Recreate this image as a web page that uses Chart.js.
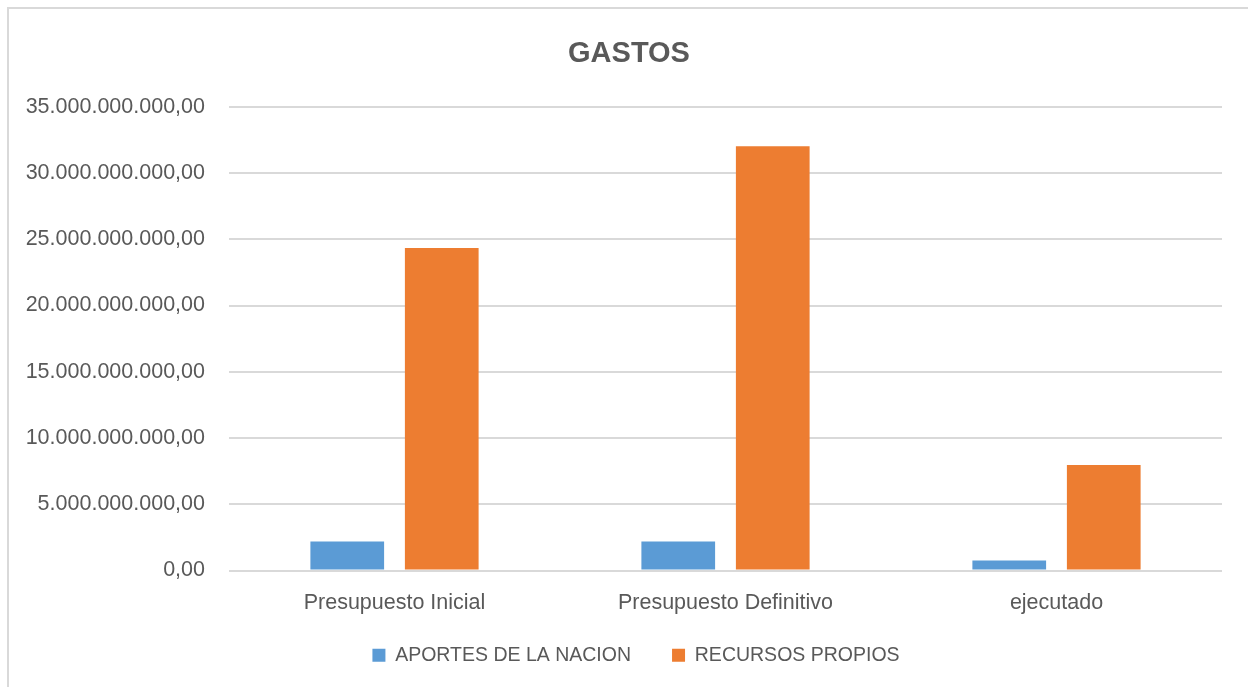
<!DOCTYPE html>
<html>
<head>
<meta charset="utf-8">
<script src="https://cdn.jsdelivr.net/npm/chart.js@4/dist/chart.umd.min.js"></script>
<style>
  body { margin: 0; background: #fff; overflow: hidden; }
  #frame { position: absolute; left: 7px; top: 7px; width: 1300px; height: 740px; border: 2px solid #d9d9d9; }
  #stats_chart { position: absolute; left: 0; top: 0; }
</style>
</head>
<body>
<div id="frame"></div>
<canvas id="stats_chart" width="1248" height="687"></canvas>
<script>
'use strict';

const categories = ['Presupuesto Inicial', 'Presupuesto Definitivo', 'ejecutado'];
const aportes_nacion = [2190000000, 2190000000, 750000000];
const recursos_propios = [24340000000, 32020000000, 7970000000];
const y_ticks = [0, 5e9, 10e9, 15e9, 20e9, 25e9, 30e9, 35e9];

const grey_text = '#595959';
const font_family = '"Liberation Sans", Arial, sans-serif';

// 35000000000 -> 35.000.000.000,00
const format_money = (value) => {
    const int_part = Math.round(value).toString().replace(/\B(?=(\d{3})+(?!\d))/g, '.');
    return int_part + ',00';
};

// move a layout box when it is drawn (title is centred on the outer frame,
// legend padding doubles as vertical offset)
const shift_box = (box, dx, dy) => {
    if (!box || box._shifted) return;
    const orig = box.draw.bind(box);
    box.draw = function (area) {
        const saved = { top: this.top, bottom: this.bottom, left: this.left, right: this.right };
        this.top = saved.top + dy;
        this.bottom = saved.bottom + dy + 20;
        this.left = saved.left + dx;
        this.right = saved.right + dx;
        orig(area);
        Object.assign(this, saved);
    };
    box._shifted = true;
};

const box_shift = {
    id: 'box_shift',
    beforeDraw(chart) {
        shift_box(chart.legend, 25, -12);
        shift_box(chart.titleBlock, 18, 1);
    },
};

const mychart = document.getElementById('stats_chart');

new Chart(mychart, {
    type: 'bar',
    data: {
        labels: categories,
        datasets: [{
            label: 'APORTES DE LA NACION',
            data: aportes_nacion,
            backgroundColor: '#5B9BD5',
        }, {
            label: 'RECURSOS PROPIOS',
            data: recursos_propios,
            backgroundColor: '#ED7D31',
        }],
    },
    plugins: [box_shift],
    options: {
        responsive: false,
        animation: false,
        categoryPercentage: 0.571,
        barPercentage: 0.78,
        layout: { padding: { left: 0, right: 26, top: 0, bottom: 0 } },
        plugins: {
            tooltip: { enabled: false },
            title: {
                display: true,
                text: 'GASTOS',
                color: grey_text,
                font: { family: font_family, size: 29, weight: 'bold' },
                padding: { top: 36, bottom: 36 },
            },
            legend: {
                position: 'bottom',
                labels: {
                    color: grey_text,
                    font: { family: font_family, size: 19.5 },
                    boxWidth: 13,
                    boxHeight: 13,
                    padding: 41,
                },
            },
        },
        scales: {
            x: {
                grid: { display: false, drawTicks: false },
                border: { display: false },
                ticks: {
                    color: grey_text,
                    font: { family: font_family, size: 21.5 },
                    padding: 20,
                },
                afterFit: (scale) => { scale.height = 46; },
            },
            y: {
                min: 0,
                max: 35e9,
                grid: { color: '#d9d9d9', lineWidth: 2, drawTicks: false },
                border: { display: false },
                afterBuildTicks: (scale) => { scale.ticks = y_ticks.map(v => ({ value: v })); },
                afterFit: (scale) => { scale.width = 229; },
                ticks: {
                    color: grey_text,
                    font: { family: font_family, size: 21.5 },
                    padding: 24,
                    callback: (value) => format_money(value),
                },
            },
        },
    },
});
</script>
</body>
</html>
